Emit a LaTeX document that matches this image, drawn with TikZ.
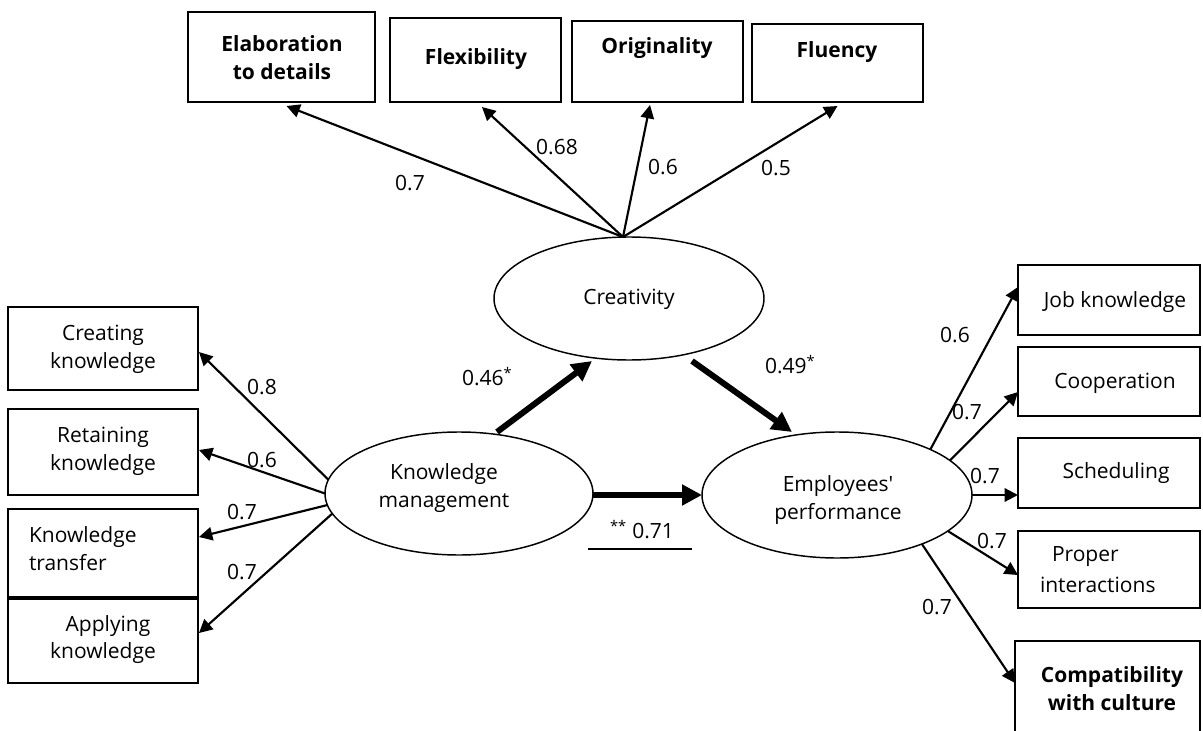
\documentclass[tikz,border=0pt]{standalone}
\usepackage{fontspec}
\setmainfont{Open Sans}[Ligatures=TeXOff]
\usetikzlibrary{arrows.meta,calc,shapes.geometric}
\begin{document}
\begin{tikzpicture}[x=0.75pt,y=-0.75pt,
  every node/.style={inner sep=0pt, outer sep=0pt},
  txt/.style={font=\fontsize{15.75}{21}\selectfont, align=center},
  btxt/.style={font=\fontsize{15.75}{21}\selectfont\bfseries, align=center},
  bx/.style 2 args={draw, line width=1.5pt, rectangle, minimum width=#1*0.75pt, minimum height=#2*0.75pt},
  lat/.style 2 args={draw, ellipse, line width=1.1pt, minimum width=#1*0.75pt, minimum height=#2*0.75pt},
  arr/.style={line width=1.6pt, -{Triangle[length=10pt,width=10pt]}},
  bigarr/.style={line width=4.5pt, -{Triangle[length=15pt,width=15pt]}},
  lbl/.style={font=\fontsize{15.75}{21}\selectfont}
]
\useasboundingbox (0,0) rectangle (1203,731);

% latent variables
\node[lat={270}{123}] (cr) at (629,298.5) {};
\node[lat={268}{123}] (km) at (459,493.5) {};
\node[lat={270}{126}] (emp) at (837,495) {};
\node[txt] (crt) at (629,299) {Creativity};
\node[txt] (kmt) at (444,488) {Knowledge\\management};
\node[txt] (empt) at (838,500) {Employees'\\performance};

% top boxes
\node[bx={187}{90}] (elab) at (281.5,57) {};
\node[bx={171}{84}] (flex) at (475.5,60) {};
\node[bx={171}{81}] (orig) at (657.5,61.5) {};
\node[bx={171}{78}] (flu) at (837.5,63) {};
\node[btxt] (elabt) at (282,58) {Elaboration\\to details};
\node[btxt] (flext) at (476,59) {Flexibility};
\node[btxt] (origt) at (657,48) {Originality};
\node[btxt] (flut) at (837,52) {Fluency};

% left boxes
\node[bx={190}{83}] (creat) at (103,348.5) {};
\node[bx={190}{86}] (ret) at (103,452) {};
\node[bx={190}{88}] (kt) at (103,553) {};
\node[bx={190}{84}] (app) at (103,641) {};
\node[txt] (creatt) at (103,349) {Creating\\knowledge};
\node[txt] (rett) at (103,451) {Retaining\\knowledge};
\node[txt, align=left, anchor=west] (ktt) at (29,549) {Knowledge\\transfer};
\node[txt] (appt1) at (108,626) {Applying};
\node[txt] (appt2) at (103,653) {knowledge};

% right boxes
\node[bx={182}{70}] (job) at (1109,300) {};
\node[bx={182}{69}] (coop) at (1109,381.5) {};
\node[bx={182}{70}] (sched) at (1109,473) {};
\node[bx={182}{77}] (prop) at (1109,569.5) {};
\node[bx={185}{110}] (comp) at (1107.5,696) {};
\node[txt] (jobt) at (1115,302) {Job knowledge};
\node[txt] (coopt) at (1115,383) {Cooperation};
\node[txt] (schedt) at (1116,473) {Scheduling};
\node[txt, anchor=west] (propt1) at (1052,557) {Proper};
\node[txt, anchor=west] (propt2) at (1040,585) {interactions};
\node[btxt] (compt) at (1112,689) {Compatibility\\with culture};

% creativity indicators
\draw[arr] ($(cr.north)+(-6,0)$) -- ($(elab.south)+(5,4)$);
\draw[arr] ($(cr.north)+(-6,0)$) -- ($(flex.south)+(6.5,5)$);
\draw[arr] ($(cr.north)+(-6,0)$) -- ($(orig.south)+(-7.5,3)$);
\draw[arr] ($(cr.north)+(-6,0)$) -- ($(flu.south)+(0,4)$);
\node[lbl] (l1) at (410,183) {0.7};
\node[lbl] (l2) at (557,147) {0.68};
\node[lbl] (l3) at (663,167) {0.6};
\node[lbl] (l4) at (776,168) {0.5};

% knowledge management indicators
\draw[arr] (km.174) -- ($(creat.east)+(1,3.5)$);
\draw[arr] (km.180) -- ($(ret.east)+(1,-2)$);
\draw[arr] (km.185.7) -- ($(kt.east)+(1,-16)$);
\draw[arr] (km.189.5) -- ($(app.east)+(1,-8)$);
\node[lbl] (l5) at (262,387) {0.8};
\node[lbl] (l6) at (262,460) {0.6};
\node[lbl] (l7) at (242,512) {0.7};
\node[lbl] (l8) at (242,572) {0.7};

% performance indicators
\draw[arr] (emp.26.8) -- ($(job.west)+(0,-13)$);
\draw[arr] (emp.17.8) -- ($(coop.west)+(0,10.5)$);
\draw[arr] (emp.east) -- ($(sched.west)+(0,22)$);
\draw[arr] (emp.-18.3) -- ($(prop.west)+(0,5.5)$);
\draw[arr] (emp.-30.5) -- ($(comp.west)+(0,-13)$);
\node[lbl] (l9) at (955,335) {0.6};
\node[lbl] (l10) at (967,412) {0.7};
\node[lbl] (l11) at (985,476) {0.7};
\node[lbl] (l12) at (992,541) {0.7};
\node[lbl] (l13) at (937,607) {0.7};

% structural paths
\draw[bigarr] ($(km.north)+(38,0)$) -- ($(cr.south)+(-37,1)$);
\draw[bigarr] ($(cr.south)+(63,1)$) -- ($(emp.north)+(-45,0)$);
\draw[bigarr] (km.east |- 0,495) -- (emp.west |- 0,495);
\node[lbl, anchor=west] (l14) at (462,377) {0.46\textsuperscript{*}};
\node[lbl, anchor=west] (l15) at (765,365) {0.49\textsuperscript{*}};
\node[lbl, anchor=west] (l16) at (610,530) {\textsuperscript{**} 0.71};
\coordinate (ul1) at (588,549);
\coordinate (ul2) at (692,549);
\draw[line width=1.3pt] (ul1) -- (ul2);
\end{tikzpicture}
\end{document}
